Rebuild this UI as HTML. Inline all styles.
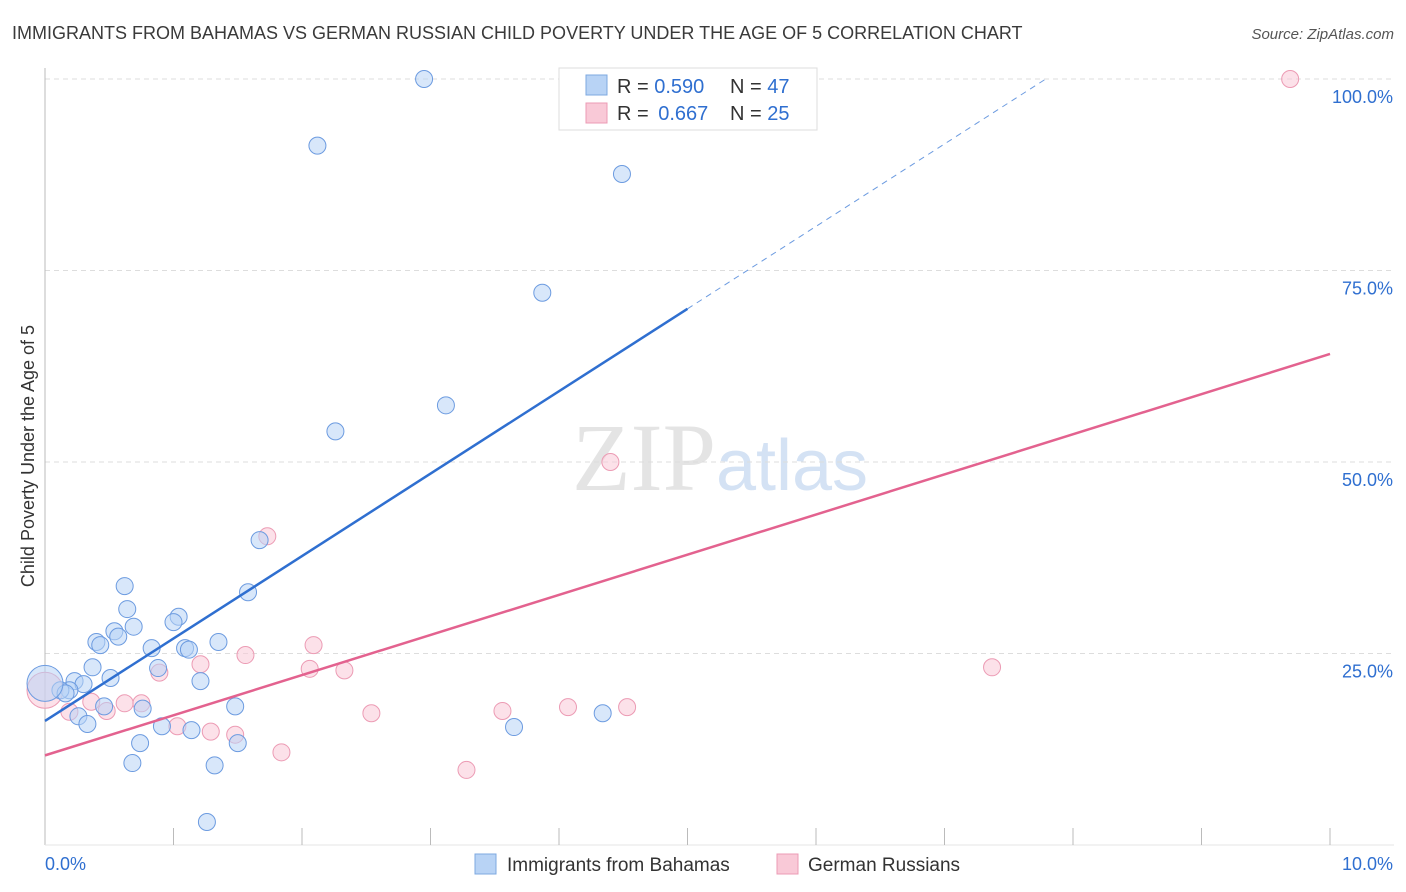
<!DOCTYPE html>
<html><head><meta charset="utf-8"><style>
body{margin:0;background:#fff;font-family:"Liberation Sans",sans-serif;}
svg{display:block}
</style></head><body>
<svg id="chart" width="1406" height="892" xmlns="http://www.w3.org/2000/svg" font-family="Liberation Sans, sans-serif">
<text x="12" y="39" font-size="18" fill="#3a3a3a">IMMIGRANTS FROM BAHAMAS VS GERMAN RUSSIAN CHILD POVERTY UNDER THE AGE OF 5 CORRELATION CHART</text>
<text x="1394" y="39" font-size="15" fill="#555" text-anchor="end" font-style="italic">Source: ZipAtlas.com</text>
<text x="720" y="490" font-size="96" text-anchor="middle" fill="#e4e4e4" font-family="Liberation Serif, serif">ZIP<tspan fill="#d4e2f4" font-family="Liberation Sans, sans-serif" font-size="72">atlas</tspan></text>
<g id="grid"></g>
<g id="axes"></g>
<g id="marks"></g>
<text transform="translate(34,456) rotate(-90)" font-size="18" fill="#333" text-anchor="middle">Child Poverty Under the Age of 5</text>
<g>
<rect x="559" y="68" width="258" height="62" fill="#fff" stroke="#ddd"/>
<rect x="586" y="75" width="21" height="20" fill="#b8d3f5" stroke="#7ea8e0"/>
<rect x="586" y="103" width="21" height="20" fill="#f9c9d7" stroke="#ec9bb4"/>
<text x="617" y="93" font-size="20" fill="#333">R = <tspan fill="#2f6fd0">0.590</tspan><tspan x="730">N = </tspan><tspan fill="#2f6fd0">47</tspan></text>
<text x="617" y="120" font-size="20" fill="#333">R = <tspan fill="#2f6fd0" dx="4">0.667</tspan><tspan x="730">N = </tspan><tspan fill="#2f6fd0">25</tspan></text>
</g>
<g>
<rect x="475" y="854" width="21" height="20" fill="#b8d3f5" stroke="#7ea8e0"/>
<text x="507" y="871" font-size="19" fill="#333">Immigrants from Bahamas</text>
<rect x="777" y="854" width="21" height="20" fill="#f9c9d7" stroke="#ec9bb4"/>
<text x="808" y="871" font-size="19" fill="#333">German Russians</text>
</g>
</svg>
<script>
const blueX=[2.95,2.12,4.49,3.87,3.12,2.26,1.67,1.58,0.62,0.64,0.54,0.57,0.69,0.40,0.43,0.83,1.04,1.00,1.09,1.12,1.35,0.37,0.88,1.21,0.23,0.30,0.51,0.19,0.12,0.16,0.00,1.48,0.76,0.46,0.26,0.33,0.91,1.14,3.65,4.34,0.74,1.50,0.68,1.32,1.26];
const blueY=[100.0,91.3,87.6,72.1,57.4,54.0,39.8,33.0,33.8,30.8,27.9,27.2,28.5,26.5,26.1,25.7,29.8,29.1,25.7,25.5,26.5,23.2,23.1,21.4,21.4,21.0,21.8,20.2,20.2,19.8,21.1,18.1,17.8,18.1,16.8,15.8,15.5,15.0,15.4,17.2,13.3,13.3,10.7,10.4,3.0];
const pinkX=[9.69,4.40,1.73,2.09,1.56,1.21,0.89,2.06,2.33,0.36,0.62,0.75,0.48,0.19,2.54,3.56,4.07,4.53,7.37,1.03,1.29,1.48,1.84,3.28,0.00];
const pinkY=[100.0,50.0,40.3,26.1,24.8,23.6,22.5,23.0,22.8,18.7,18.5,18.5,17.5,17.4,17.2,17.5,18.0,18.0,23.2,15.5,14.8,14.4,12.1,9.8,20.2];
const blueTrend=[16.2,70.0];
const pinkTrend=[11.7,64.1];
const yTicks=[25,50,75,100];
const yTickLabels=["25.0%","50.0%","75.0%","100.0%"];
const xTickLabels=["0.0%","10.0%"];
const NS="http://www.w3.org/2000/svg";
const sx=v=>45+v*128.5, sy=v=>845-v*7.66;
function mk(tag,attrs,parent){const e=document.createElementNS(NS,tag);for(const k in attrs)e.setAttribute(k,attrs[k]);document.getElementById(parent).appendChild(e);return e;}
yTicks.forEach((t,i)=>{
 const l=mk('line',{x1:45,x2:1394,y1:sy(t),y2:sy(t),stroke:'#ddd','stroke-dasharray':'5,4'},'grid');
 
 
 const tx=mk('text',{x:1393,y:sy(t)+24,'font-size':18,fill:'#2f6fd0','text-anchor':'end'},'axes');
 tx.textContent=yTickLabels[i];
 
 
});
const ax=mk('line',{x1:45,x2:45,y1:68,y2:845,stroke:'#bbb'},'axes');


const bx=mk('line',{x1:45,x2:1394,y1:845,y2:845,stroke:'#e5e5e5'},'axes');


for(let i=1;i<=10;i++){const t=mk('line',{x1:sx(i),x2:sx(i),y1:828,y2:845,stroke:'#bbb'},'axes');
 
 }
[[0,'start'],[10,'end']].forEach((p,i)=>{const t=mk('text',{x:i?1393:45,y:870,'font-size':18,fill:'#2f6fd0','text-anchor':p[1]},'axes');t.textContent=xTickLabels[i];
 
 });
function dots(X,Y,fill,stroke,name){X.forEach((x,i)=>{const big=x===0;const c=mk('circle',{cx:sx(x),cy:sy(Y[i]),r:big?18:8.5,fill:fill,'fill-opacity':0.55,stroke:stroke,'stroke-width':1},'marks');
 
 });}
dots(pinkX,pinkY,'#f9c9d7','#ec9bb4','pink-point');
dots(blueX,blueY,'#b8d3f5','#6c9be0','blue-point');
const bslope=blueTrend[1]-blueTrend[0];
let l1=mk('line',{x1:sx(0),y1:sy(blueTrend[0]),x2:sx(5),y2:sy(blueTrend[0]+bslope),stroke:'#2f6fd0','stroke-width':2.5},'marks');


const xe=(100-blueTrend[0])/(bslope/5);
let l2=mk('line',{x1:sx(5),y1:sy(blueTrend[0]+bslope),x2:sx(xe),y2:sy(100),stroke:'#6c9be0','stroke-width':1,'stroke-dasharray':'6,5'},'marks');


let l3=mk('line',{x1:sx(0),y1:sy(pinkTrend[0]),x2:sx(10),y2:sy(pinkTrend[1]),stroke:'#e3628f','stroke-width':2.5},'marks');


</script>
</body></html>
